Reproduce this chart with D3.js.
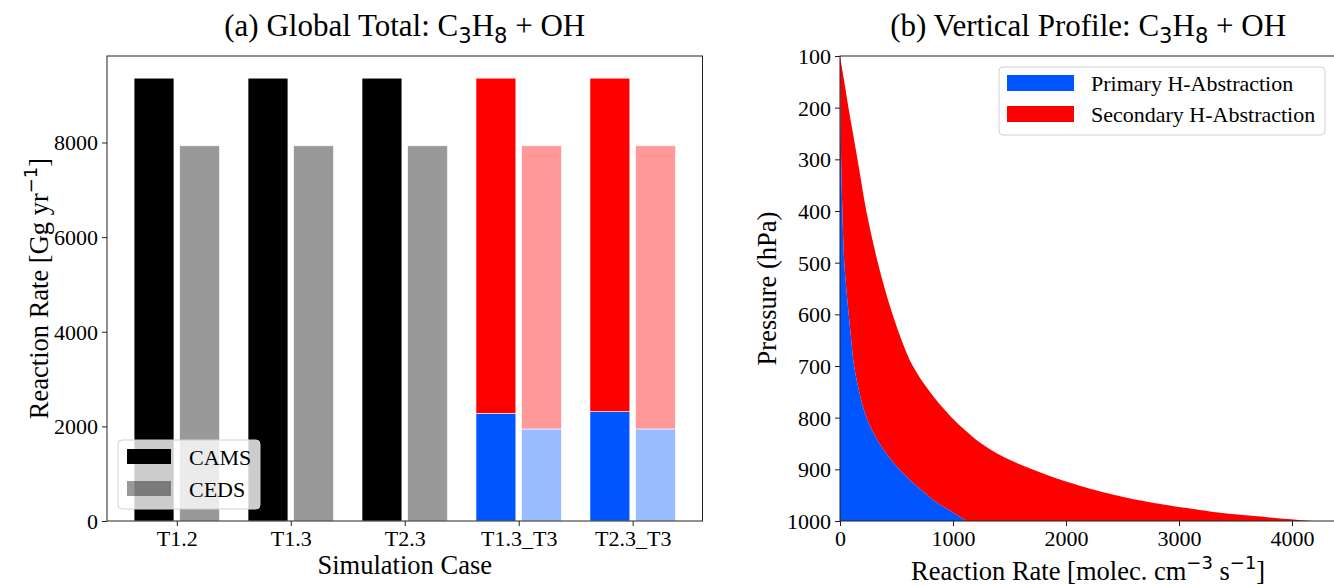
<!DOCTYPE html>
<html>
<head>
<meta charset="utf-8">
<script src="https://cdn.jsdelivr.net/npm/d3@7"></script>
<style>
  html, body { margin: 0; padding: 0; background: #fff; }
  svg { display: block; }
  text { font-family: "Liberation Serif", "Times New Roman", serif; fill: #000; }
</style>
</head>
<body>
<svg id="chart" width="1334" height="586"></svg>
<script>
// ---------- Panel (a) data ----------
const categories = ["T1.2", "T1.3", "T2.3", "T1.3_T3", "T2.3_T3"];
const camsTotal = [9360, 9360, 9360, 9360, 9360];
const cedsTotal = [7930, 7930, 7930, 7930, 7930];
const camsPrimary = [null, null, null, 2276, 2310];
const cedsPrimary = [null, null, null, 1945, 1945];
const leftYTicks = [0, 2000, 4000, 6000, 8000];

// ---------- Panel (b) data ----------
const pressure = [100, 150, 200, 250, 300, 400, 500, 600, 650, 700, 750, 800, 825, 850, 875, 900, 925, 950, 965, 975, 985, 993, 1000];
const primaryRate = [0, 1, 4, 7, 10, 21, 38, 77, 100, 125, 170, 235, 285, 350, 430, 525, 640, 775, 860, 935, 1010, 1070, 1120];
const secondaryRate = [0, 37, 71, 108, 145, 212, 297, 388, 445, 520, 625, 755, 825, 900, 1010, 1175, 1380, 1665, 1920, 2135, 2390, 2730, 3060];
const pressureTicks = [100, 200, 300, 400, 500, 600, 700, 800, 900, 1000];
const rateTicks = [0, 1000, 2000, 3000, 4000];

const RED = "#ff0000", BLUE = "#0055ff", BLACK = "#000000";
const FS_TICK = 22, FS_LABEL = 26.5, FS_TITLE = 31, FS_LEG = 22;

const svg = d3.select("#chart");

function mathText(sel, parts, size) {
  let cur = 0;
  parts.forEach(([t, m]) => {
    const ts = sel.append("tspan").text(t);
    let target = 0;
    if (m === "sub") { target = size * 0.22; ts.style("font-family", "DejaVu Sans").attr("font-size", size * 0.68); }
    else if (m === "sup") { target = -size * 0.42; ts.style("font-family", "DejaVu Sans").attr("font-size", size * 0.68); }
    if (target !== cur) ts.attr("dy", target - cur);
    cur = target;
  });
}

// ================= Panel (a) =================
const A = { l: 107, r: 702.5, t: 56, b: 521 };
const xA = d3.scaleLinear().domain([-0.6125, 4.6125]).range([A.l, A.r]);
const yA = d3.scaleLinear().domain([0, 9360 * 1.05]).range([A.b, A.t]);
const bw = 0.35, off = 0.2;

const gA = svg.append("g");
const barData = [];
categories.forEach((c, i) => {
  [[camsTotal[i], camsPrimary[i], -off, 1], [cedsTotal[i], cedsPrimary[i], off, 0.4]].forEach(([tot, prim, o, op]) => {
    if (prim == null) {
      barData.push({ x: i + o, y0: 0, y1: tot, color: BLACK, op });
    } else {
      barData.push({ x: i + o, y0: 0, y1: prim, color: BLUE, op });
      barData.push({ x: i + o, y0: prim, y1: tot, color: RED, op });
    }
  });
});
gA.selectAll("rect.bar").data(barData).join("rect")
  .attr("class", "bar")
  .attr("x", d => xA(d.x - bw / 2))
  .attr("width", xA(bw) - xA(0))
  .attr("y", d => yA(d.y1))
  .attr("height", d => yA(d.y0) - yA(d.y1))
  .attr("fill", d => d.color)
  .attr("fill-opacity", d => d.op)
  .attr("stroke", "#fff").attr("stroke-width", 0.6);

const axAx = gA.append("g").attr("transform", `translate(0,${A.b})`)
  .call(d3.axisBottom(xA).tickValues(d3.range(categories.length)).tickFormat(i => categories[i]).tickSize(5).tickSizeOuter(0));
const axAy = gA.append("g").attr("transform", `translate(${A.l},0)`)
  .call(d3.axisLeft(yA).tickValues(leftYTicks).tickFormat(d3.format("d")).tickSize(5).tickSizeOuter(0));
[axAx, axAy].forEach(ax => {
  ax.select(".domain").remove();
  ax.selectAll("line").attr("stroke", "#222").attr("stroke-width", 1);
  ax.selectAll("text").attr("font-size", FS_TICK).style("font-family", "Liberation Serif").attr("fill", "#000");
});
axAx.selectAll("text").attr("dy", "0.84em").attr("y", 7);
axAy.selectAll("text").attr("x", -9).attr("dy", "0.34em");
gA.append("rect").attr("x", A.l).attr("y", A.t).attr("width", A.r - A.l).attr("height", A.b - A.t)
  .attr("fill", "none").attr("stroke", "#222").attr("stroke-width", 1);

// legend A
const legA = gA.append("g");
legA.append("rect").attr("x", 118).attr("y", 440).attr("width", 142).attr("height", 69).attr("rx", 4)
  .attr("fill", "#fff").attr("fill-opacity", 0.8).attr("stroke", "#d0d0d0").attr("stroke-width", 1);
[["CAMS", 1, 449], ["CEDS", 0.4, 481]].forEach(([lab, op, y]) => {
  legA.append("rect").attr("x", 127).attr("y", y).attr("width", 44).attr("height", 15)
    .attr("fill", BLACK).attr("fill-opacity", op);
  legA.append("text").attr("x", 189).attr("y", y + 16).attr("font-size", FS_LEG).text(lab);
});

const tA = svg.append("text").attr("x", (A.l + A.r) / 2).attr("y", 36).attr("text-anchor", "middle").attr("font-size", FS_TITLE);
mathText(tA, [["(a) Global Total: C", null], ["3", "sub"], ["H", null], ["8", "sub"], [" + OH", null]], FS_TITLE);
svg.append("text").attr("x", (A.l + A.r) / 2).attr("y", 574).attr("text-anchor", "middle").attr("font-size", FS_LABEL).text("Simulation Case");
const ylA = svg.append("text").attr("transform", `translate(48,${(A.t + A.b) / 2}) rotate(-90)`).attr("text-anchor", "middle").attr("font-size", FS_LABEL);
mathText(ylA, [["Reaction Rate [Gg yr", null], ["\u22121", "sup"], ["]", null]], FS_LABEL);

// ================= Panel (b) =================
const B = { l: 840, r: 840 + 4392 * 0.113, t: 56, b: 521 };
const xB = d3.scaleLinear().domain([0, 4392]).range([B.l, B.r]);
const yB = d3.scaleLinear().domain([100, 1000]).range([B.t, B.b]);
const gB = svg.append("g");
const clip = svg.append("defs").append("clipPath").attr("id", "clipB");
clip.append("rect").attr("x", B.l).attr("y", B.t).attr("width", B.r - B.l).attr("height", B.b - B.t);

const prof = pressure.map((p, i) => ({ p, a: primaryRate[i], b: primaryRate[i] + secondaryRate[i] }));
const areaPrim = d3.area().curve(d3.curveMonotoneY).y(d => yB(d.p)).x0(() => xB(0)).x1(d => xB(d.a));
const areaSec = d3.area().curve(d3.curveMonotoneY).y(d => yB(d.p)).x0(d => xB(d.a)).x1(d => xB(d.b));
gB.append("path").datum(prof).attr("d", areaSec).attr("fill", RED).attr("clip-path", "url(#clipB)");
gB.append("path").datum(prof).attr("d", areaPrim).attr("fill", BLUE).attr("clip-path", "url(#clipB)");

const axBx = gB.append("g").attr("transform", `translate(0,${B.b})`)
  .call(d3.axisBottom(xB).tickValues(rateTicks).tickFormat(d3.format("d")).tickSize(5).tickSizeOuter(0));
const axBy = gB.append("g").attr("transform", `translate(${B.l},0)`)
  .call(d3.axisLeft(yB).tickValues(pressureTicks).tickFormat(d3.format("d")).tickSize(5).tickSizeOuter(0));
[axBx, axBy].forEach(ax => {
  ax.select(".domain").remove();
  ax.selectAll("line").attr("stroke", "#222").attr("stroke-width", 1);
  ax.selectAll("text").attr("font-size", FS_TICK).style("font-family", "Liberation Serif").attr("fill", "#000");
});
axBx.selectAll("text").attr("dy", "0.84em").attr("y", 7);
axBy.selectAll("text").attr("x", -9).attr("dy", "0.34em");
gB.append("rect").attr("x", B.l).attr("y", B.t).attr("width", B.r - B.l).attr("height", B.b - B.t)
  .attr("fill", "none").attr("stroke", "#222").attr("stroke-width", 1);

// legend B
const legB = gB.append("g");
legB.append("rect").attr("x", 999).attr("y", 67).attr("width", 326).attr("height", 68).attr("rx", 4)
  .attr("fill", "#fff").attr("fill-opacity", 0.8).attr("stroke", "#d0d0d0").attr("stroke-width", 1);
[["Primary H-Abstraction", BLUE, 75], ["Secondary H-Abstraction", RED, 106]].forEach(([lab, col, y]) => {
  legB.append("rect").attr("x", 1007).attr("y", y).attr("width", 67).attr("height", 16).attr("fill", col);
  legB.append("text").attr("x", 1091).attr("y", y + 16).attr("font-size", FS_LEG).text(lab);
});

const tB = svg.append("text").attr("x", (B.l + B.r) / 2).attr("y", 36).attr("text-anchor", "middle").attr("font-size", FS_TITLE);
mathText(tB, [["(b) Vertical Profile: C", null], ["3", "sub"], ["H", null], ["8", "sub"], [" + OH", null]], FS_TITLE);
const xlB = svg.append("text").attr("x", (B.l + B.r) / 2).attr("y", 580).attr("text-anchor", "middle").attr("font-size", FS_LABEL);
mathText(xlB, [["Reaction Rate [molec. cm", null], ["\u22123", "sup"], [" s", null], ["\u22121", "sup"], ["]", null]], FS_LABEL);
svg.append("text").attr("transform", `translate(776,${(B.t + B.b) / 2}) rotate(-90)`).attr("text-anchor", "middle").attr("font-size", FS_LABEL).text("Pressure (hPa)");
</script>
</body>
</html>
